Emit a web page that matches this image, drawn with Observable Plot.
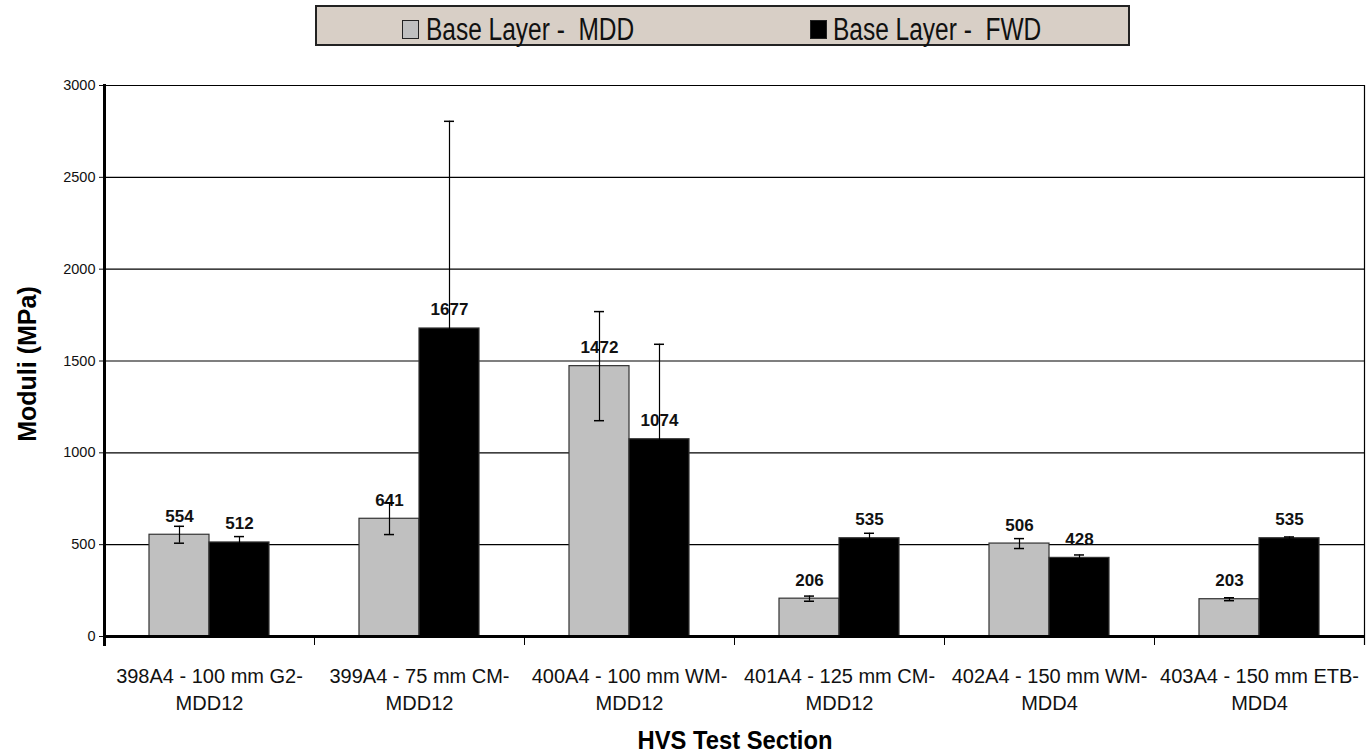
<!DOCTYPE html>
<html><head><meta charset="utf-8">
<script src="https://cdn.jsdelivr.net/npm/d3@7"></script>
<script src="https://cdn.jsdelivr.net/npm/@observablehq/plot@0.6"></script>
<style>
body{margin:0;background:#fff;font-family:"Liberation Sans",Arial,sans-serif;}
#wrap{position:relative;width:1367px;height:753px;overflow:hidden;}
#legendbar{position:relative;height:50px;}
#legend{position:absolute;left:315px;top:5px;width:811px;height:37px;background:#d8cfc6;border:2px solid #222;}
.lg-item{position:absolute;top:8px;font-family:"Liberation Sans",Arial,sans-serif;font-size:31px;line-height:30px;white-space:pre;color:#111;transform:scaleX(0.79);transform-origin:0 50%;}
.sw{position:absolute;top:13px;width:15px;height:17px;border:1.5px solid #222;}
#ylabel{position:absolute;left:27px;top:364px;transform:translate(-50%,-50%) rotate(-90deg);font-weight:bold;font-size:25px;white-space:nowrap;}
#xlabel{position:absolute;left:735px;top:730px;line-height:20px;transform:translateX(-50%) scaleX(0.95);font-weight:bold;font-size:25px;white-space:nowrap;}
svg{display:block;}
</style>
</head><body>
<div id="wrap">
  <div id="legendbar"><div id="legend"></div></div>
  <div id="chart"></div>
  <div id="ylabel">Moduli (MPa)</div>
  <div id="xlabel">HVS Test Section</div>
</div>
<script>
const categories = [
  "398A4 - 100 mm G2-\nMDD12",
  "399A4 - 75 mm CM-\nMDD12",
  "400A4 - 100 mm WM-\nMDD12",
  "401A4 - 125 mm CM-\nMDD12",
  "402A4 - 150 mm WM-\nMDD4",
  "403A4 - 150 mm ETB-\nMDD4"
];
const seriesKeys = ["MDD", "FWD"];
const seriesNames = ["Base Layer -  MDD", "Base Layer -  FWD"];
const seriesColors = ["#c0c0c0", "#000000"];
const mddValues = [554, 641, 1472, 206, 506, 203];
const fwdValues = [512, 1677, 1074, 535, 428, 535];
const mddErrors = [46, 86, 297, 14, 27, 8];
const fwdErrors = [32, 1128, 517, 27, 16, 7];
const yTicks = [0, 500, 1000, 1500, 2000, 2500, 3000];

const data = categories.flatMap((c, i) => [
  {section: c, series: "MDD", value: mddValues[i], err: mddErrors[i]},
  {section: c, series: "FWD", value: fwdValues[i], err: fwdErrors[i]}
]);

// legend
const legend = document.getElementById("legend");
const legendPos = [[85, 109], [493, 516]];
seriesNames.forEach((name, i) => {
  const sw = document.createElement("div");
  sw.className = "sw";
  sw.style.left = legendPos[i][0] + "px";
  sw.style.background = seriesColors[i];
  legend.appendChild(sw);
  const t = document.createElement("div");
  t.className = "lg-item";
  t.style.left = legendPos[i][1] + "px";
  t.textContent = name;
  legend.appendChild(t);
});

const plot = Plot.plot({
  width: 1367,
  height: 703,
  marginTop: 35,
  marginBottom: 117,
  marginLeft: 103,
  marginRight: 2,
  style: {fontFamily: "Liberation Sans, Arial, sans-serif", background: "white", color: "#111"},
  fx: {domain: categories, padding: 0, label: null},
  x: {domain: seriesKeys, paddingInner: 0, paddingOuter: 0.73, axis: null},
  y: {domain: [0, 3000]},
  color: {domain: seriesKeys, range: seriesColors},
  marks: [
    Plot.gridY(yTicks.slice(1), {stroke: "#000", strokeOpacity: 1, strokeWidth: 1.2}),
    Plot.barY(data, {fx: "section", x: "series", y: "value", fill: "series", stroke: "#333", strokeWidth: 1.2}),
    Plot.text(data, {fx: "section", x: "series", y: "value", text: d => String(d.value), lineAnchor: "bottom", dy: -13, fontWeight: "bold", fontSize: 17, fill: "#111", ariaLabel: "value-labels"}),
    Plot.ruleX(data, {fx: "section", x: "series", y1: d => d.value - d.err, y2: d => d.value + d.err, stroke: "#000", strokeWidth: 1.2}),
    Plot.tickY(data, {fx: "section", x: "series", y: d => d.value + d.err, insetLeft: 25, insetRight: 25, stroke: "#000", strokeWidth: 1.5}),
    Plot.tickY(data, {fx: "section", x: "series", y: d => d.value - d.err, insetLeft: 25, insetRight: 25, stroke: "#000", strokeWidth: 1.5}),
    Plot.ruleY([0], {stroke: "#000", strokeWidth: 3}),
    Plot.axisY({ticks: yTicks, tickFormat: d3.format("d"), tickSize: 5, tickPadding: 4, fontSize: 14.5, label: null}),
    Plot.axisFx({anchor: "bottom", tickSize: 0, tickPadding: 27, fontSize: 20, lineHeight: 1.35, label: null}),
    Plot.frame({anchor: "left", facetAnchor: "left", stroke: "#000", strokeWidth: 3, insetBottom: -8}),
    Plot.frame({anchor: "left", stroke: "#000", strokeWidth: 1, insetTop: 551, insetBottom: -8}),
    Plot.frame({anchor: "right", facetAnchor: "right", stroke: "#000", strokeWidth: 1.2, insetBottom: -8})
  ]
});
// condense the value labels horizontally (narrow bold face in the original)
d3.select(plot).selectAll('g[aria-label="value-labels"] text').each(function() {
  const t = this.getAttribute("transform") || "";
  this.setAttribute("transform", t + " scale(0.8,1)");
});
document.getElementById("chart").appendChild(plot);
</script>
</body></html>
